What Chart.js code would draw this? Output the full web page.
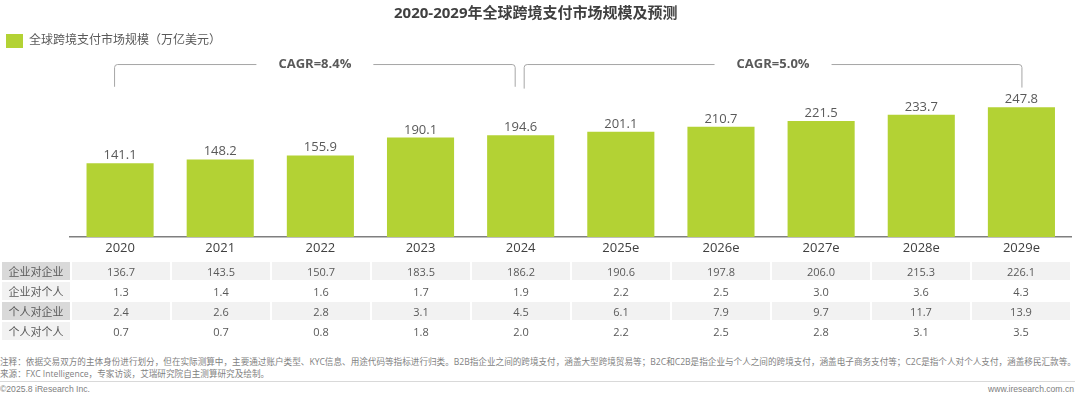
<!DOCTYPE html>
<html>
<head>
<meta charset="utf-8">
<script src="https://cdn.jsdelivr.net/npm/chart.js@4.4.1/dist/chart.umd.min.js"></script>
<style>
  body { margin: 0; width: 1080px; height: 399px; background: #fff; overflow: hidden; position: relative;
         font-family: "Open Sans", "Noto Sans CJK SC", sans-serif; }
  #chartBox { position: absolute; left: 0; top: 0; width: 1080px; height: 262px; }
  #dataTable { position: absolute; left: 0; top: 260px; border-collapse: separate; border-spacing: 2px;
               font-size: 11px; color: #595959; }
  #dataTable td { height: 18px; padding: 0; text-align: center; width: 98px; }
  #dataTable td.rowName { width: 68px; }
  #dataTable tr.shade td { background: #f2f2f2; }
  #dataTable tr.shade td.rowName { background: #d9d9d9; }
  #dataTable tr.plain td.rowName { background: #f2f2f2; }
  .note { position: absolute; left: 0; font-size: 8.6px; color: #7f7f7f; white-space: nowrap; line-height: 12px; }
  #divider { position: absolute; left: 0; top: 381px; width: 1075px; border-top: 1px solid #d9d9d9; }
  .foot { position: absolute; top: 383px; font-size: 8.6px; color: #808080; line-height: 12px;
          font-family: "Liberation Sans", "Noto Sans CJK SC", sans-serif; }
</style>
</head>
<body>
<div id="chartBox"><canvas id="marketChart"></canvas></div>
<table id="dataTable"></table>
<div class="note" style="top:356px">注释：依据交易双方的主体身份进行划分，但在实际测算中，主要通过账户类型、KYC信息、用途代码等指标进行归类。B2B指企业之间的跨境支付，涵盖大型跨境贸易等；B2C和C2B是指企业与个人之间的跨境支付，涵盖电子商务支付等；C2C是指个人对个人支付，涵盖移民汇款等。</div>
<div class="note" style="top:368px">来源：FXC Intelligence，专家访谈，艾瑞研究院自主测算研究及绘制。</div>
<div id="divider"></div>
<div class="foot" style="left:0">©2025.8 iResearch Inc.</div>
<div class="foot" style="right:6px">www.iresearch.com.cn</div>

<script>
// -----------------------------
// Data
// -----------------------------
const years = ["2020", "2021", "2022", "2023", "2024", "2025e", "2026e", "2027e", "2028e", "2029e"];
const marketSize = [141.1, 148.2, 155.9, 190.1, 194.6, 201.1, 210.7, 221.5, 233.7, 247.8];

const rowNames = ["企业对企业", "企业对个人", "个人对企业", "个人对个人"];
const b2b = [136.7, 143.5, 150.7, 183.5, 186.2, 190.6, 197.8, 206.0, 215.3, 226.1];
const b2c = [1.3, 1.4, 1.6, 1.7, 1.9, 2.2, 2.5, 3.0, 3.6, 4.3];
const c2b = [2.4, 2.6, 2.8, 3.1, 4.5, 6.1, 7.9, 9.7, 11.7, 13.9];
const c2c = [0.7, 0.7, 0.8, 1.8, 2.0, 2.2, 2.5, 2.8, 3.1, 3.5];

// CAGR brackets: [first index, last index]
const cagrText = ["CAGR=8.4%", "CAGR=5.0%"];
const cagrSpan = [[0, 4], [4, 9]];

const barColor = "#b3d234";
const textGrey = "#595959";

// -----------------------------
// Table under the chart
// -----------------------------
const table = document.getElementById("dataTable");
[b2b, b2c, c2b, c2c].forEach((row, i) => {
    const tr = document.createElement("tr");
    tr.className = i % 2 === 0 ? "shade" : "plain";
    const name = document.createElement("td");
    name.className = "rowName";
    name.innerText = rowNames[i];
    tr.appendChild(name);
    row.forEach(v => {
        const td = document.createElement("td");
        td.innerText = v.toFixed(1);
        tr.appendChild(td);
    });
    table.appendChild(tr);
});

// -----------------------------
// Plugins
// -----------------------------
const valueLabels = {
    id: "valueLabels",
    afterDatasetsDraw(chart) {
        const ctx = chart.ctx;
        const meta = chart.getDatasetMeta(0);
        ctx.save();
        ctx.font = "13px 'Open Sans'";
        ctx.fillStyle = textGrey;
        ctx.textAlign = "center";
        ctx.textBaseline = "alphabetic";
        meta.data.forEach((bar, i) => {
            ctx.fillText(marketSize[i].toFixed(1), bar.x, bar.y - 4);
        });
        ctx.restore();
    }
};

const cagrBrackets = {
    id: "cagrBrackets",
    afterDraw(chart) {
        const ctx = chart.ctx;
        const xs = chart.scales.x;
        const ys = chart.scales.y;
        const lineY = ys.getPixelForValue(329.5);
        const r = 3;
        ctx.save();
        ctx.strokeStyle = "#a6a6a6";
        ctx.lineWidth = 1;
        ctx.font = "bold 13px 'Open Sans'";
        ctx.fillStyle = textGrey;
        ctx.textAlign = "center";
        ctx.textBaseline = "middle";
        cagrSpan.forEach((span, k) => {
            const x1 = xs.getPixelForValue(span[0]) + (k === 0 ? -5.5 : 3.5);
            const x2 = xs.getPixelForValue(span[1]) + (k === 0 ? -5.5 : 0.5);
            const endY1 = ys.getPixelForValue(k === 0 ? 287 : 283.5);
            const endY2 = ys.getPixelForValue(k === 0 ? 287 : 285.5);
            const mid = (x1 + x2) / 2;
            const half = ctx.measureText(cagrText[k]).width / 2 + 22;
            ctx.beginPath();
            ctx.moveTo(x1, endY1);
            ctx.lineTo(x1, lineY + r);
            ctx.quadraticCurveTo(x1, lineY, x1 + r, lineY);
            ctx.lineTo(mid - half, lineY);
            ctx.moveTo(mid + half, lineY);
            ctx.lineTo(x2 - r, lineY);
            ctx.quadraticCurveTo(x2, lineY, x2, lineY + r);
            ctx.lineTo(x2, endY2);
            ctx.stroke();
            ctx.fillText(cagrText[k], mid, lineY);
        });
        ctx.restore();
    }
};

// -----------------------------
// Chart
// -----------------------------
const marketChart = new Chart(document.getElementById("marketChart"), {
    type: "bar",
    data: {
        labels: years,
        datasets: [{
            label: "全球跨境支付市场规模（万亿美元）",
            data: marketSize,
            backgroundColor: barColor,
            categoryPercentage: 1,
            barPercentage: 0.67
        }]
    },
    options: {
        responsive: true,
        maintainAspectRatio: false,
        animation: false,
        layout: { padding: { left: 0, right: 8.5, top: 0, bottom: 3.4 } },
        plugins: {
            title: {
                display: true,
                text: "2020-2029年全球跨境支付市场规模及预测",
                color: "#404040",
                font: { size: 15, weight: "bold", family: "'Open Sans', 'Noto Sans CJK SC'" },
                padding: { top: 5, bottom: 5 }
            },
            legend: {
                display: true,
                align: "start",
                labels: {
                    color: textGrey,
                    boxWidth: 17,
                    boxHeight: 14,
                    padding: 6,
                    font: { size: 12, family: "'Open Sans', 'Noto Sans CJK SC'" }
                }
            },
            tooltip: { enabled: false }
        },
        scales: {
            x: {
                grid: { display: false, drawTicks: false },
                border: { display: true, color: "#7f7f7f", width: 1.5 },
                ticks: { color: "#404040", padding: 3, font: { size: 13, family: "'Open Sans'" } }
            },
            y: {
                min: 0,
                max: 342,
                grid: { display: false, drawTicks: false },
                border: { display: false },
                ticks: { display: false },
                afterFit(scale) { scale.width = 70; }
            }
        }
    },
    plugins: [valueLabels, cagrBrackets]
});
</script>
</body>
</html>
